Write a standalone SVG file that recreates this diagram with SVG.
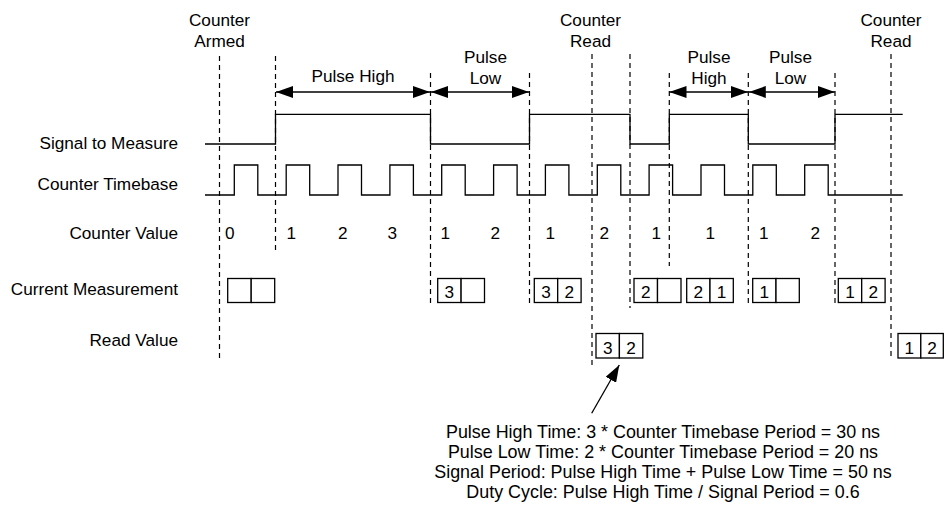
<svg xmlns="http://www.w3.org/2000/svg" width="944" height="507" viewBox="0 0 944 507">
<style>
text{font-family:"Liberation Sans",Arial,Helvetica,sans-serif;font-size:17.2px;fill:#000}
.lbl{text-anchor:end}
.mid{text-anchor:middle}
.note{font-size:17.9px}
.dash{stroke:#000;stroke-width:1.2;stroke-dasharray:5 4;fill:none}
.wave{stroke:#000;stroke-width:1.3;fill:none}
.box{stroke:#000;stroke-width:1.3;fill:#fff}
.arr{stroke:#000;stroke-width:1.3;fill:none}
</style>
<defs>
<marker id="ah" viewBox="0 0 17 12" refX="17" refY="6" markerWidth="17" markerHeight="12" markerUnits="userSpaceOnUse" orient="auto-start-reverse">
<path d="M0,0 L17,6 L0,12 Z" fill="#000"/>
</marker>
</defs>
<rect width="944" height="507" fill="#fff"/>
<g id="row-labels">
<text class="lbl" x="178" y="149">Signal to Measure</text>
<text class="lbl" x="178" y="190">Counter Timebase</text>
<text class="lbl" x="178" y="238.5">Counter Value</text>
<text class="lbl" x="178" y="295">Current Measurement</text>
<text class="lbl" x="178" y="346">Read Value</text>
</g>
<g id="event-labels">
<text class="mid" x="219.5" y="26">Counter</text>
<text class="mid" x="219.5" y="46.5">Armed</text>
<text class="mid" x="590.5" y="26">Counter</text>
<text class="mid" x="590.5" y="46.5">Read</text>
<text class="mid" x="891" y="26">Counter</text>
<text class="mid" x="891" y="46.5">Read</text>
<text class="mid" x="353" y="81.5">Pulse High</text>
<text class="mid" x="485.5" y="63">Pulse</text>
<text class="mid" x="485.5" y="83.5">Low</text>
<text class="mid" x="709" y="63">Pulse</text>
<text class="mid" x="709" y="83.5">High</text>
<text class="mid" x="790.5" y="63">Pulse</text>
<text class="mid" x="790.5" y="83.5">Low</text>
</g>
<g id="connectors">
<line class="dash" x1="219.5" y1="56" x2="219.5" y2="360"/>
<line class="dash" x1="275.5" y1="56" x2="275.5" y2="250"/>
<line class="dash" x1="430.5" y1="73" x2="430.5" y2="305"/>
<line class="dash" x1="529.5" y1="73" x2="529.5" y2="307"/>
<line class="dash" x1="592" y1="54" x2="592" y2="368"/>
<line class="dash" x1="630" y1="54" x2="630" y2="308"/>
<line class="dash" x1="669.3" y1="73" x2="669.3" y2="266"/>
<line class="dash" x1="748.3" y1="73" x2="748.3" y2="305"/>
<line class="dash" x1="835" y1="73" x2="835" y2="305"/>
<line class="dash" x1="891" y1="54" x2="891" y2="360"/>
<line class="arr" x1="276" y1="92" x2="430" y2="92" marker-start="url(#ah)" marker-end="url(#ah)"/>
<line class="arr" x1="431" y1="92" x2="529" y2="92" marker-start="url(#ah)" marker-end="url(#ah)"/>
<line class="arr" x1="669.5" y1="92" x2="748" y2="92" marker-start="url(#ah)" marker-end="url(#ah)"/>
<line class="arr" x1="748.8" y1="92" x2="834.8" y2="92" marker-start="url(#ah)" marker-end="url(#ah)"/>
<line class="arr" x1="591.7" y1="413.3" x2="619.3" y2="365" marker-end="url(#ah)"/>
</g>
<g id="signal-to-measure">
<path class="wave" d="M205,144 H275.5 V114.3 H430.5 V144 H529.5 V114.3 H630 V144 H669.3 V114.3 H748.3 V144 H835 V114.3 H902.7"/>
</g>
<g id="counter-timebase">
<path class="wave" d="M205,195 H234.3 V165 H257.8 V195 H286.2 V165 H309.7 V195 H338 V165 H361.5 V195 H389.9 V165 H413.4 V195 H441.7 V165 H465.2 V195 H493.6 V165 H517.1 V195 H545.4 V165 H568.9 V195 H597.3 V165 H620.8 V195 H649.1 V165 H672.6 V195 H701 V165 H724.5 V195 H752.8 V165 H776.3 V195 H804.7 V165 H828.2 V195 H902.7"/>
</g>
<g id="counter-values">
<text x="225" y="238.5">0</text>
<text x="286.5" y="238.5">1</text>
<text x="338" y="238.5">2</text>
<text x="387.5" y="238.5">3</text>
<text x="440.5" y="238.5">1</text>
<text x="490.5" y="238.5">2</text>
<text x="545.5" y="238.5">1</text>
<text x="599.5" y="238.5">2</text>
<text x="651.5" y="238.5">1</text>
<text x="705.5" y="238.5">1</text>
<text x="759" y="238.5">1</text>
<text x="810.5" y="238.5">2</text>
</g>
<g id="current-measurement">
<rect class="box" x="227.7" y="278.5" width="23.5" height="24"/><rect class="box" x="251.2" y="278.5" width="23.5" height="24"/>
<rect class="box" x="437.7" y="278.5" width="23.4" height="24"/><rect class="box" x="461.1" y="278.5" width="23.4" height="24"/>
<text class="mid" x="449.4" y="298">3</text>
<rect class="box" x="534.3" y="278.5" width="23.4" height="24"/><rect class="box" x="557.7" y="278.5" width="23.4" height="24"/>
<text class="mid" x="546" y="298">3</text><text class="mid" x="569.4" y="298">2</text>
<rect class="box" x="634" y="278.5" width="23.5" height="24"/><rect class="box" x="657.5" y="278.5" width="23.5" height="24"/>
<text class="mid" x="645.7" y="298">2</text>
<rect class="box" x="686.7" y="278.5" width="23.3" height="24"/><rect class="box" x="710" y="278.5" width="23.3" height="24"/>
<text class="mid" x="698.3" y="298">2</text><text class="mid" x="721.6" y="298">1</text>
<rect class="box" x="752.7" y="278.5" width="23.3" height="24"/><rect class="box" x="776" y="278.5" width="23.3" height="24"/>
<text class="mid" x="764.3" y="298">1</text>
<rect class="box" x="838.3" y="278.5" width="23.4" height="24"/><rect class="box" x="861.7" y="278.5" width="23.4" height="24"/>
<text class="mid" x="850" y="298">1</text><text class="mid" x="873.4" y="298">2</text>
</g>
<g id="read-value">
<rect class="box" x="596" y="333.5" width="23.4" height="24.5"/><rect class="box" x="619.4" y="333.5" width="23.4" height="24.5"/>
<text class="mid" x="607.7" y="353.5">3</text><text class="mid" x="631.1" y="353.5">2</text>
<rect class="box" x="898" y="333.5" width="22.8" height="24.5"/><rect class="box" x="920.8" y="333.5" width="22.5" height="24.5"/>
<text class="mid" x="909.4" y="353.5">1</text><text class="mid" x="932" y="353.5">2</text>
</g>
<g id="notes">
<text class="mid note" x="663" y="438">Pulse High Time: 3 * Counter Timebase Period = 30 ns</text>
<text class="mid note" x="663" y="458">Pulse Low Time: 2 * Counter Timebase Period = 20 ns</text>
<text class="mid note" x="663" y="478">Signal Period: Pulse High Time + Pulse Low Time = 50 ns</text>
<text class="mid note" x="663" y="498">Duty Cycle: Pulse High Time / Signal Period = 0.6</text>
</g>
</svg>
